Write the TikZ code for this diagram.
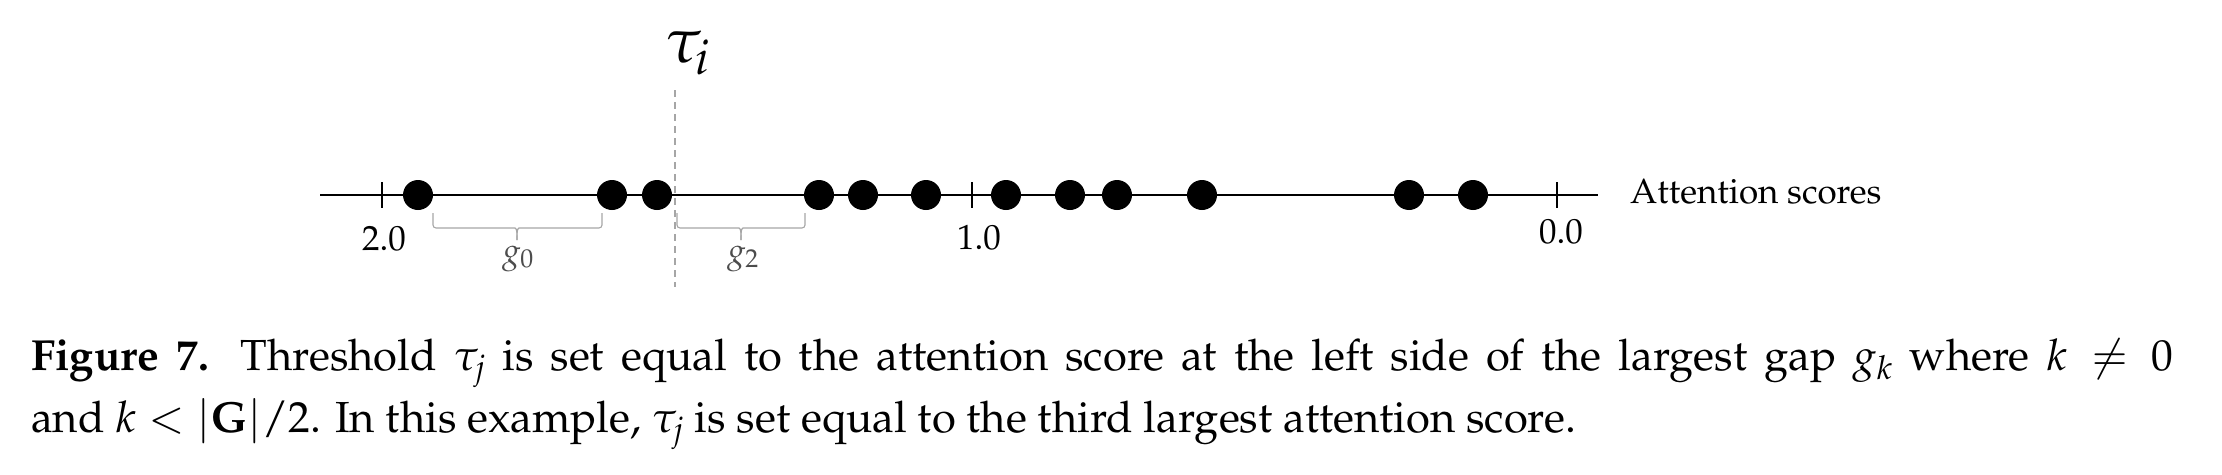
\documentclass[tikz,border=0pt]{standalone}
\usepackage[T1]{fontenc}
\usepackage{mathpazo}
\begin{document}
\begin{tikzpicture}[x=1pt,y=-1pt,
  axisline/.style={line width=1.6pt, black},
  tickmark/.style={line width=1.1pt, black},
  dot/.style={circle, fill=black, inner sep=0pt, minimum size=30pt},
  thresh/.style={draw=black!35, line width=1.1pt, dash pattern=on 7pt off 5pt},
  gapbrace/.style={draw=black!35, line width=1.1pt, rounded corners=3pt},
  ticklabel/.style={anchor=base, inner sep=0pt, font=\fontsize{35pt}{40pt}\selectfont},
  gaplabel/.style={anchor=base, inner sep=0pt, text=black!70, font=\fontsize{34pt}{38pt}\selectfont},
  caption/.style={anchor=base west, inner sep=0pt, font=\fontsize{43.5pt}{62pt}\selectfont}]
\useasboundingbox (0,0) rectangle (2222,474);

% axis
\coordinate (axL) at (320,195);
\coordinate (axR) at (1598,195);
\draw[axisline] (axL) -- (axR);

% ticks
\coordinate (t2a) at (382,182); \coordinate (t2b) at (382,208);
\coordinate (t1a) at (972,182); \coordinate (t1b) at (972,208);
\coordinate (t0a) at (1557,182); \coordinate (t0b) at (1557,208);
\draw[tickmark] (t2a) -- (t2b);
\draw[tickmark] (t1a) -- (t1b);
\draw[tickmark] (t0a) -- (t0b);

% tick labels
\node[ticklabel] (l2) at (384,250) {2.0};
\node[ticklabel] (l1) at (979,249) {1.0};
\node[ticklabel] (l0) at (1561,243) {0.0};
\node[anchor=base west, inner sep=0pt, font=\fontsize{35pt}{40pt}\selectfont] (axname) at (1630,203) {Attention scores};

% threshold line
\coordinate (thTop) at (675,90);
\coordinate (thBot) at (675,287);
\draw[thresh] (thTop) -- (thBot);
\node[anchor=base, inner sep=0pt, font=\fontsize{64pt}{70pt}\selectfont] (tau) at (688,62) {$\tau_i$};

% braces
\coordinate (b0L) at (433,213); \coordinate (b0R) at (602,213); \coordinate (b0M) at (517,240);
\draw[gapbrace] (b0L) |- ([xshift=-5pt]b0M |- 0,228) to[out=0,in=90] (b0M);
\draw[gapbrace] (b0R) |- ([xshift=5pt]b0M |- 0,228) to[out=180,in=90] (b0M);
\coordinate (b2L) at (677,213); \coordinate (b2R) at (805,213); \coordinate (b2M) at (741,240);
\draw[gapbrace] (b2L) |- ([xshift=-5pt]b2M |- 0,228) to[out=0,in=90] (b2M);
\draw[gapbrace] (b2R) |- ([xshift=5pt]b2M |- 0,228) to[out=180,in=90] (b2M);
\node[gaplabel] (g0) at (518,262) {$g_0$};
\node[gaplabel] (g2) at (743,262) {$g_2$};

% dots
\node[dot] (d1) at (418,195) {};
\node[dot] (d2) at (612,195) {};
\node[dot] (d3) at (657,195) {};
\node[dot] (d4) at (819,195) {};
\node[dot] (d5) at (863,195) {};
\node[dot] (d6) at (926,195) {};
\node[dot] (d7) at (1006,195) {};
\node[dot] (d8) at (1070,195) {};
\node[dot] (d9) at (1117,195) {};
\node[dot] (d10) at (1202,195) {};
\node[dot] (d11) at (1409,195) {};
\node[dot] (d12) at (1473,195) {};

% caption
\node[caption] (cap1) at (31,370) {\makebox[2142pt][s]{\textbf{Figure 7.} Threshold $\tau_j$ is set equal to the attention score at the left side of the largest gap $g_k$ where $k\neq 0$}};
\node[caption] (cap2) at (31,432) {and $k<|\mathbf{G}|/2$. In this example, $\tau_j$ is set equal to the third largest attention score.};
\end{tikzpicture}
\end{document}
